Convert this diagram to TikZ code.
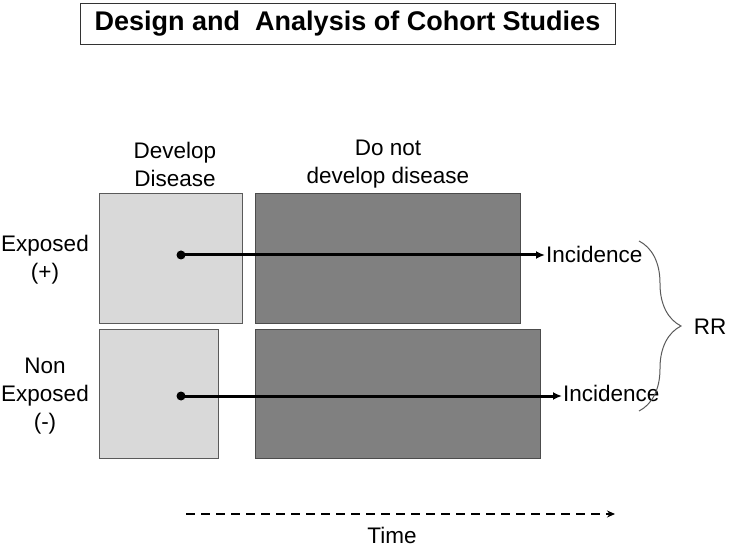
\documentclass[tikz,border=0pt]{standalone}
\usepackage{fontspec}
\setmainfont{Liberation Sans}
\usepackage{tikz}
\usetikzlibrary{arrows.meta,positioning,decorations.pathreplacing}
\definecolor{lightbox}{HTML}{D9D9D9}
\definecolor{darkbox}{HTML}{808080}
\definecolor{edgegray}{HTML}{5A5A5A}

\begin{document}
\begin{tikzpicture}[x=1pt, y=-1pt,
    every node/.style={font=\fontsize{22.5pt}{28pt}\selectfont, align=center},
    devbox/.style={draw=edgegray, fill=lightbox, inner sep=0pt},
    nodevbox/.style={draw=black!70, fill=darkbox, inner sep=0pt},
    followline/.style={-{Latex[length=9pt,width=8pt]}, line width=3pt},
    startdot/.style={circle, fill=black, inner sep=0pt, minimum size=9pt}]
    \useasboundingbox (0,0) rectangle (729,548);
    % title
    \node[draw=black!80, minimum width=535pt, minimum height=41pt, inner sep=0pt,
          font=\fontsize{27pt}{30pt}\selectfont\bfseries] (title) at (347.5,23.5) {Design and \ Analysis of Cohort Studies};
    % column headings
    \node (devhead) at (175,164) {Develop\\Disease};
    \node (nodevhead) at (388,164) {Do not\\develop disease};
    % row headings
    \node (exphead) at (45,260) {Exposed\\(+)};
    \node (nonexphead) at (45,396) {Non\\Exposed\\(-)};
    % boxes
    \node[devbox, minimum width=143pt, minimum height=130pt] (devexp) at (170.5,258) {};
    \node[nodevbox, minimum width=265pt, minimum height=130pt] (nodevexp) at (387.5,258) {};
    \node[devbox, minimum width=119pt, minimum height=129pt] (devnon) at (158.5,393.5) {};
    \node[nodevbox, minimum width=285pt, minimum height=129pt] (nodevnon) at (397.5,393.5) {};
    % incidence lines
    \node[startdot] (dotexp) at (181,255) {};
    \node[startdot] (dotnon) at (181,396) {};
    \node[anchor=west, inner sep=1pt] (incexp) at (545,254) {Incidence};
    \node[anchor=west, inner sep=1pt] (incnon) at (562,393) {Incidence};
    \draw[followline] (dotexp.center) -- (dotexp.center -| incexp.west);
    \draw[followline] (dotnon.center) -- (dotnon.center -| incnon.west);
    % relative risk
    \coordinate (bracetop) at (639,241);
    \coordinate (bracebot) at (639,411);
    \draw[edgegray, line width=1pt, decorate, decoration={brace, amplitude=42pt}] (bracetop) -- (bracebot);
    \node (rr) at (710,327) {RR};
    % time axis
    \coordinate (timestart) at (186,514);
    \coordinate (timeend) at (615,514);
    \draw[-{Stealth[length=8pt,width=7pt]}, line width=2.4pt, dash pattern=on 9pt off 6pt] (timestart) -- (timeend);
    \node[inner sep=0pt] (time) at (392,535) {Time};
\end{tikzpicture}
\end{document}
